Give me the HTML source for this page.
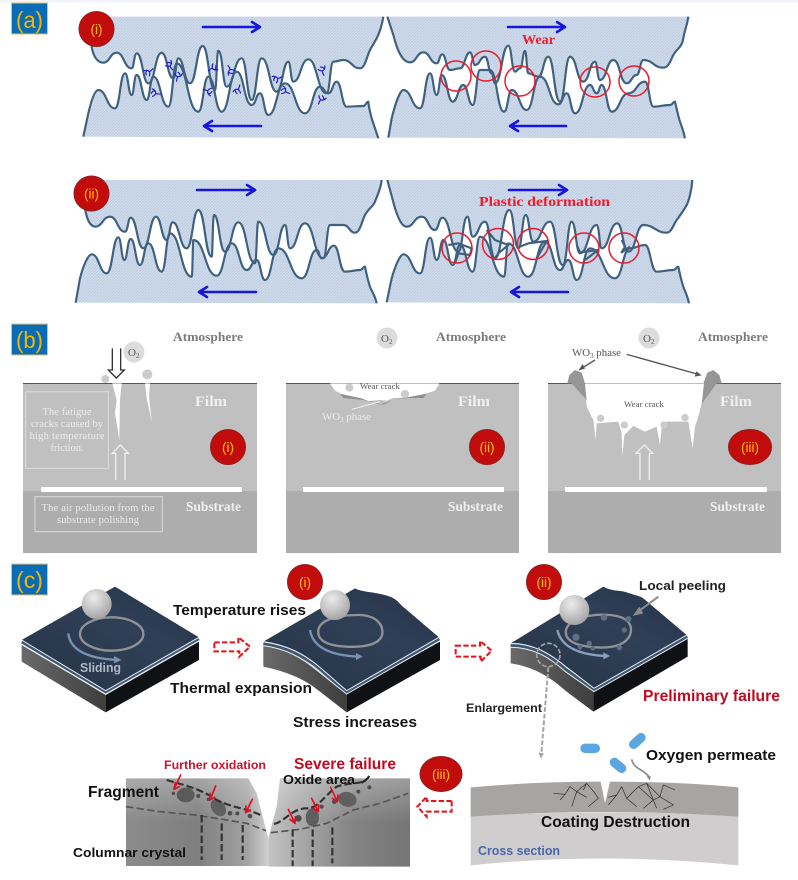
<!DOCTYPE html>
<html>
<head>
<meta charset="utf-8">
<style>
html,body{margin:0;padding:0;background:#fff;width:798px;height:880px;overflow:hidden}
svg{display:block;filter:blur(.35px)}
text{font-family:"Liberation Sans",sans-serif}
.serif{font-family:"Liberation Serif",serif}
.b{font-weight:bold}
.lab{fill:#f2b705;font-size:23px}
.num{fill:#ffc000;font-size:13.5px;text-anchor:middle}
.badge{fill:#c20c0c;stroke:#8f1f1f;stroke-width:1}
.atm{font-family:"Liberation Serif",serif;font-weight:bold;fill:#7b7b7b;font-size:13px}
.film{font-family:"Liberation Serif",serif;font-weight:bold;fill:#f0f0f0;font-size:15px}
.sub{font-family:"Liberation Serif",serif;font-weight:bold;fill:#f0f0f0;font-size:14px}
.note{font-family:"Liberation Serif",serif;fill:#ececec;font-size:10.5px;text-anchor:middle}
.bl{stroke:#1616dc;stroke-width:2.6;fill:none;stroke-linecap:round;stroke-linejoin:round}
.rc{fill:none;stroke:#e81c2c;stroke-width:1.5}
.dash{fill:none;stroke:#e8101c;stroke-width:6;stroke-dasharray:16 7}
.crk{fill:none;stroke:#2a2a2a;stroke-width:2}
.dk{fill:none;stroke:#333;stroke-width:6.5;stroke-dasharray:22 9}
.dk2{fill:none;stroke:#555;stroke-width:5;stroke-dasharray:22 10}
.ra{stroke:#e01020;stroke-width:5;fill:none;stroke-linecap:round;stroke-linejoin:round}
.dots{fill:#5d6f84}
.wf{fill:url(#hz)}
.ws{fill:none;stroke:#3f617f;stroke-width:6.5;stroke-linejoin:round}
</style>
</head>
<body>
<svg xmlns="http://www.w3.org/2000/svg" width="798" height="880" viewBox="0 0 798 880">
<defs>
<pattern id="hz" width="9" height="9" patternUnits="userSpaceOnUse">
<rect width="9" height="9" fill="#d0dcec"/>
<path d="M0 9L9 0" stroke="#bccbdf" stroke-width="2.4"/>
</pattern>
<radialGradient id="ball" cx=".4" cy=".3" r=".8">
<stop offset="0" stop-color="#ececec"/><stop offset=".6" stop-color="#bcbcbc"/><stop offset="1" stop-color="#9a9a9a"/>
</radialGradient>
<linearGradient id="topf" x1="0" y1="1" x2="1" y2="0">
<stop offset="0" stop-color="#263447"/><stop offset=".6" stop-color="#2f3f55"/><stop offset="1" stop-color="#26344a"/>
</linearGradient>
<linearGradient id="leftf" x1="0" y1="0" x2="1" y2="0">
<stop offset="0" stop-color="#6a6a6a"/><stop offset="1" stop-color="#3e3e3e"/>
</linearGradient>
<linearGradient id="gl" x1="0" y1="0" x2="1" y2="0">
<stop offset="0" stop-color="#8b8b8b"/><stop offset=".5" stop-color="#7f7f7f"/><stop offset=".85" stop-color="#a2a2a2"/><stop offset="1" stop-color="#d0d0d0"/>
</linearGradient>
<linearGradient id="gr" x1="0" y1="0" x2="1" y2="0">
<stop offset="0" stop-color="#c4c4c4"/><stop offset=".2" stop-color="#ababab"/><stop offset=".6" stop-color="#838383"/><stop offset="1" stop-color="#767676"/>
</linearGradient>
<linearGradient id="gv" x1="0" y1="0" x2="0" y2="1">
<stop offset="0" stop-color="#fff" stop-opacity=".28"/><stop offset=".5" stop-color="#fff" stop-opacity="0"/>
</linearGradient>
<path id="at" d="M272 50L275 140C279 165 290 188 310 188C330 188 330 158 350 158C372 158 372 205 395 205C402 205 402 160 410 160C428 160 428 250 445 250C465 250 465 158 485 158C502 158 502 235 520 235C528 235 528 175 535 175C552 175 552 250 570 250C589 250 589 138 608 138C626 138 626 270 645 270C650 270 650 152 655 152C668 152 668 260 680 260C702 260 702 175 725 175C740 175 740 300 755 300C770 300 770 175 785 175C808 175 808 275 830 275C848 275 848 185 865 185C872 185 872 245 880 245C902 245 902 178 925 178C952 178 952 280 980 280C990 280 990 185 1000 185C1015 185 1015 180 1030 180C1055 180 1055 205 1080 205C1095 205 1100 170 1110 150S1140 110 1150 50"/>
<path id="ab" d="M250 410L265 340C272 310 283 270 295 270C320 270 320 325 345 325C360 325 360 220 375 220C385 220 385 285 395 285C402 285 402 225 410 225C425 225 425 300 440 300C450 300 450 230 460 230C482 230 482 320 505 320C518 320 518 190 530 190C562 190 562 335 595 335C610 335 610 230 625 230C645 230 645 335 665 335C688 335 688 215 710 215C732 215 732 315 755 315C768 315 768 280 780 280C792 280 792 345 805 345C830 345 830 250 855 250C885 250 885 340 915 340C938 340 938 260 960 260C972 260 972 280 985 280C998 280 998 245 1010 245C1025 245 1025 320 1040 320C1065 320 1065 318 1090 318C1098 318 1098 305 1105 305C1108 335 1118 365 1120 370L1135 415"/>
<path id="bt" d="M22 35L40 90C50 130 65 172 90 172C110 172 110 142 130 142C150 142 150 175 170 175C178 175 178 148 187 148C198 148 198 195 210 195C225 195 225 190 240 190C255 190 255 142 270 142C278 142 278 180 285 180C300 180 300 155 315 155C325 155 325 205 335 205C340 205 340 235 345 235C365 235 365 122 385 122C395 122 395 200 405 200C412 200 412 190 420 190C428 190 428 138 435 138C440 138 440 205 445 205C460 205 460 215 475 215C490 215 490 155 505 155C522 155 522 290 540 290C555 290 555 155 570 155C590 155 590 230 610 230C628 230 628 170 645 170C652 170 652 225 660 225C680 225 680 165 700 165C720 165 720 235 740 235C755 235 755 210 770 210C780 210 780 165 790 165C820 165 820 188 850 188C865 188 870 170 880 150S905 130 910 100S922 60 925 35"/>
<path id="bb" d="M25 398L35 340C45 300 60 255 70 255C95 255 95 310 120 310C135 310 135 205 150 205C160 205 160 270 170 270C178 270 178 210 185 210C202 210 202 290 218 290C234 290 234 240 250 240C264 240 264 300 278 300C289 300 289 195 300 195C315 195 315 195 330 195C351 195 351 320 372 320C384 320 384 255 395 255C418 255 418 315 440 315C460 315 460 215 480 215C508 215 508 298 535 298C548 298 548 265 560 265C572 265 572 325 585 325C608 325 608 240 630 240C640 240 640 265 650 265C658 265 658 240 665 240C680 240 680 320 695 320C720 320 720 265 745 265C770 265 770 230 795 230C808 230 808 305 820 305C845 305 845 300 870 300C878 300 878 290 885 290C892 320 895 335 900 350S910 375 915 400"/>
<path id="ct" d="M75 45L75 130C80 160 88 183 105 185C128 185 128 155 150 155C172 155 172 200 195 200C204 200 204 158 212 158C231 158 231 250 250 250C269 250 269 155 288 155C304 155 304 225 320 225C329 225 329 172 338 172C359 172 359 250 380 250C398 250 398 135 415 135C435 135 435 275 455 275C458 275 458 150 462 150C478 150 478 260 495 260C515 260 515 172 535 172C560 172 560 295 585 295C590 295 590 170 595 170C618 170 618 270 640 270C658 270 658 180 675 180C682 180 682 250 690 250C712 250 712 175 735 175C762 175 762 280 790 280C800 280 800 180 810 180C830 180 830 180 850 180C868 180 868 203 885 203C900 203 905 170 915 150S940 125 945 110S962 75 965 45"/>
<path id="cb" d="M47 413L60 340C70 300 85 268 95 268C118 268 118 325 140 325C158 325 158 217 175 217C184 217 184 285 193 285C202 285 202 222 212 222C226 222 226 300 240 300C252 300 252 235 265 235C285 235 285 320 305 320C318 320 318 205 330 205C362 205 362 335 395 335C398 335 398 225 400 225C435 225 435 332 470 332C492 332 492 235 515 235C538 235 538 315 560 315C575 315 575 285 590 285C602 285 602 345 615 345C635 345 635 250 655 250C690 250 690 340 725 340C748 340 748 255 770 255C778 255 778 280 785 280C804 280 804 242 822 242C838 242 838 320 855 320C878 320 878 315 900 315C908 315 908 305 915 305C920 330 925 350 930 365S945 390 950 415"/>
<path id="dt" d="M22 45L45 130C55 160 65 185 80 185C102 185 102 155 125 155C145 155 145 195 165 195C176 195 176 158 187 158C211 158 211 260 235 260C248 260 248 155 262 155C270 155 270 215 278 215C296 215 296 170 315 170C330 170 330 280 345 280C366 280 366 135 388 135C402 135 402 250 415 250C426 250 426 150 437 150C448 150 448 230 460 230C485 230 485 170 510 170C529 170 529 300 548 300C562 300 562 170 575 170C588 170 588 265 600 265C625 265 625 180 650 180C658 180 658 250 665 250C688 250 688 175 712 175C728 175 728 260 745 260C768 260 768 180 790 180C825 180 825 203 860 203C875 203 882 175 890 165S915 130 920 120S935 80 937 45"/>
<path id="db" d="M20 412L35 340C45 305 60 268 70 268C95 268 95 325 120 325C135 325 135 218 150 218C160 218 160 285 170 285C180 285 180 225 190 225C204 225 204 300 218 300C229 300 229 240 240 240C259 240 259 320 278 320C289 320 289 215 300 215C336 215 336 335 372 335C378 335 378 235 385 235C415 235 415 335 445 335C470 335 470 230 495 230C518 230 518 315 540 315C552 315 552 285 565 285C578 285 578 345 590 345C610 345 610 250 630 250C668 250 668 340 705 340C728 340 728 250 750 250C772 250 772 240 795 240C812 240 812 320 830 320C855 320 855 315 880 315C888 315 888 305 895 305C900 330 905 350 910 365S922 390 927 415"/>
<path id="cr" d="M-14 -2Q-3 -7 3 0Q6 6 3 13M3 0Q9 -3 14 -9M-5 -4Q-9 4 -6 9"/>
</defs>

<rect x="0" y="0" width="798" height="2.5" fill="#f2f4fb"/>

<!-- wave panels -->
<g transform="scale(.33333)">
<use href="#at" class="wf"/><use href="#ab" class="wf"/><use href="#at" class="ws"/><use href="#ab" class="ws"/>
<g fill="none" stroke="#1a1ad0" stroke-width="3.5" stroke-linecap="round">
<use href="#cr" transform="translate(445 215)"/>
<use href="#cr" transform="translate(465 278) rotate(47)"/>
<use href="#cr" transform="translate(510 195) rotate(94)"/>
<use href="#cr" transform="translate(535 228) rotate(141)"/>
<use href="#cr" transform="translate(640 205) rotate(188)"/>
<use href="#cr" transform="translate(625 275) rotate(235)"/>
<use href="#cr" transform="translate(690 212) rotate(282)"/>
<use href="#cr" transform="translate(712 270) rotate(329)"/>
<use href="#cr" transform="translate(830 235) rotate(16)"/>
<use href="#cr" transform="translate(855 272) rotate(63)"/>
<use href="#cr" transform="translate(968 210) rotate(110)"/>
<use href="#cr" transform="translate(965 298) rotate(157)"/>
</g>
</g>
<g transform="translate(380 5) scale(.33333)">
<use href="#bt" class="wf"/><use href="#bb" class="wf"/><use href="#bt" class="ws"/><use href="#bb" class="ws"/>
</g>
<g transform="translate(60 165) scale(.33333)">
<use href="#ct" class="wf"/><use href="#cb" class="wf"/><use href="#ct" class="ws"/><use href="#cb" class="ws"/>
</g>
<g transform="translate(380 165) scale(.33333)">
<use href="#dt" class="wf"/><use href="#db" class="wf"/><use href="#dt" class="ws"/><use href="#db" class="ws"/>
<path d="M205 240L235 235L275 250L270 270L235 265L225 295M320 195L345 225L385 240L355 265L345 280M420 245L445 235L500 228L470 280M590 240L600 262L655 255L615 285M725 225L735 245L725 262L750 245" class="ws"/>
</g>

<!-- (a) labels and badges -->
<rect x="11.5" y="3" width="36" height="31" fill="#0b6cb6" stroke="#e3c26a"/>
<text class="lab" x="16" y="28" textLength="27" lengthAdjust="spacingAndGlyphs">(a)</text>
<circle class="badge" cx="96.5" cy="29" r="17.5"/><text class="num" x="96.5" y="34">(i)</text>
<circle class="badge" cx="91.5" cy="193.5" r="17.5"/><text class="num" x="91.5" y="198.5">(ii)</text>

<!-- arrows a -->
<path class="bl" d="M203 27H260M252 22L260 27L252 32"/>
<path class="bl" d="M261 126H204M212 121L204 126L212 131"/>
<path class="bl" d="M508 27H565M557 22L565 27L557 32"/>
<path class="bl" d="M566 126H510M518 121L510 126L518 131"/>
<path class="bl" d="M197 190H255M247 185L255 190L247 195"/>
<path class="bl" d="M256 292H199M207 287L199 292L207 297"/>
<path class="bl" d="M509 190H567M559 185L567 190L559 195"/>
<path class="bl" d="M568 292H511M519 287L511 292L519 297"/>

<!-- circles a -->
<g class="rc">
<circle cx="456" cy="76" r="15"/><circle cx="486" cy="66" r="15"/><circle cx="520" cy="81" r="15"/><circle cx="595" cy="82" r="15"/><circle cx="634" cy="81" r="15"/>
<circle cx="457" cy="248" r="15"/><circle cx="498" cy="244" r="15.5"/><circle cx="533" cy="244" r="15.5"/><circle cx="584" cy="248" r="15"/><circle cx="624" cy="248" r="15"/>
</g>
<text class="serif b" x="522" y="44" font-size="14" fill="#ee1c2c" textLength="33" lengthAdjust="spacingAndGlyphs">Wear</text>
<text class="serif b" x="479" y="206" font-size="14" fill="#ee1c2c" textLength="131" lengthAdjust="spacingAndGlyphs">Plastic deformation</text>

<!-- (b) -->
<rect x="11.5" y="324" width="36" height="31" fill="#0b6cb6" stroke="#e3c26a"/>
<text class="lab" x="16" y="348" textLength="27" lengthAdjust="spacingAndGlyphs">(b)</text>

<!-- panel 1 -->
<rect x="23" y="383" width="234" height="108" fill="#c0c0c0"/>
<rect x="23" y="491" width="234" height="62" fill="#adadad"/>
<path d="M23 383.5H257" stroke="#555" stroke-width="1"/>
<rect x="41" y="487" width="201" height="5" fill="#fff"/>
<g transform="translate(0 320) scale(.33333)">
<path d="M337 190H365L360 240L358 360L345 280L350 240Z" fill="#fff"/>
<path d="M435 190H450L447 230L455 305L440 235Z" fill="#fff"/>
<circle cx="316" cy="177" r="12" fill="#ccc"/>
<circle cx="442" cy="163" r="15" fill="#ccc"/>
<path d="M337 85V150H325L349 174L373 150H362V85" fill="none" stroke="#333" stroke-width="4"/>
<path d="M347 480V400H337L361 375L385 400H375V480" fill="none" stroke="#eee" stroke-width="4"/>
<rect x="77" y="215" width="248" height="230" fill="none" stroke="#d8d8d8" stroke-width="3.5"/>
<rect x="105" y="530" width="382" height="105" fill="none" stroke="#d4d4d4" stroke-width="3.5"/>
</g>
<circle cx="134" cy="352" r="10.5" fill="#dcdcdc"/>
<text class="serif" x="128" y="356" font-size="11" fill="#555">O<tspan font-size="7" dy="2">2</tspan></text>
<text class="atm" x="173" y="341" textLength="70" lengthAdjust="spacingAndGlyphs">Atmosphere</text>
<text class="film" x="195" y="406" textLength="32" lengthAdjust="spacingAndGlyphs">Film</text>
<text class="sub" x="186" y="511" textLength="55" lengthAdjust="spacingAndGlyphs">Substrate</text>
<text class="note" x="67" y="415" textLength="49" lengthAdjust="spacing">The fatigue</text>
<text class="note" x="67" y="427" textLength="72" lengthAdjust="spacing">cracks caused by</text>
<text class="note" x="67" y="439" textLength="75" lengthAdjust="spacing">high temperature</text>
<text class="note" x="67" y="451" textLength="33" lengthAdjust="spacing">friction.</text>
<text class="note" x="98" y="511" textLength="113" lengthAdjust="spacing">The air pollution from the</text>
<text class="note" x="98" y="523" textLength="82" lengthAdjust="spacing">substrate polishing</text>
<circle class="badge" cx="228" cy="447" r="17.5"/><text class="num" x="228" y="452">(i)</text>

<!-- panel 2 -->
<rect x="286" y="383" width="233" height="108" fill="#c0c0c0"/>
<rect x="286" y="491" width="233" height="62" fill="#adadad"/>
<path d="M286 383.5H519" stroke="#555" stroke-width="1"/>
<rect x="303" y="487" width="201" height="5" fill="#fff"/>
<g transform="translate(280 320) scale(.33333)">
<path d="M180 222L250 236L300 254L340 240L440 222L430 234L385 234L340 240L310 254L250 240L190 234Z" fill="#8f8f8f"/>
<path d="M150 190L165 212L185 222L245 235L265 243L300 240L320 242L340 234L380 232L440 220L465 212L478 190Z" fill="#fff"/>
<circle cx="208" cy="203" r="12" fill="#ccc"/>
<circle cx="375" cy="222" r="12" fill="#ccc"/>
<path d="M215 268L300 245" stroke="#eee" stroke-width="3"/>
</g>
<text class="serif" x="360" y="389" font-size="8.5" fill="#555" textLength="40" lengthAdjust="spacingAndGlyphs">Wear crack</text>
<text class="serif" x="322" y="420" font-size="11" fill="#ececec" textLength="49" lengthAdjust="spacingAndGlyphs">WO<tspan font-size="7" dy="2">3</tspan><tspan dy="-2"> phase</tspan></text>
<circle cx="387" cy="338" r="10.5" fill="#dcdcdc"/>
<text class="serif" x="381" y="342" font-size="11" fill="#555">O<tspan font-size="7" dy="2">2</tspan></text>
<text class="atm" x="436" y="341" textLength="70" lengthAdjust="spacingAndGlyphs">Atmosphere</text>
<text class="film" x="458" y="406" textLength="32" lengthAdjust="spacingAndGlyphs">Film</text>
<text class="sub" x="448" y="511" textLength="55" lengthAdjust="spacingAndGlyphs">Substrate</text>
<circle class="badge" cx="487" cy="447" r="17.5"/><text class="num" x="487" y="452">(ii)</text>

<!-- panel 3 -->
<rect x="548" y="383" width="233" height="108" fill="#c0c0c0"/>
<rect x="548" y="491" width="233" height="62" fill="#adadad"/>
<path d="M548 383.5H781" stroke="#555" stroke-width="1"/>
<rect x="565" y="487" width="202" height="5" fill="#fff"/>
<g transform="translate(280 320) scale(.33333)">
<path d="M862 190L868 165L885 150L905 158L915 190L920 240L905 200L875 190Z" fill="#969696"/>
<path d="M1325 190L1318 165L1300 150L1282 158L1270 190L1262 255L1285 200L1310 190Z" fill="#969696"/>
<path d="M875 190H915L920 260L940 300L947 360L950 310L1015 305L1025 340L1027 410L1033 345L1060 318L1095 335L1130 320L1140 375L1145 325L1160 305L1225 305L1238 385L1245 320L1255 290L1265 250L1290 190Z" fill="#fff"/>
<path d="M875 190L885 182L905 190L915 195L920 240Z" fill="#969696"/>
<path d="M1272 190L1282 165L1300 180L1310 190L1265 252Z" fill="#969696"/>
<g fill="#ccc"><circle cx="962" cy="295" r="11"/><circle cx="1033" cy="315" r="11"/><circle cx="1152" cy="315" r="11"/><circle cx="1215" cy="293" r="11"/></g>
<path d="M1080 480V400H1068L1093 375L1118 400H1108V480" fill="none" stroke="#eee" stroke-width="4"/>
<path d="M945 120L900 148M1040 103L1258 164" stroke="#555" stroke-width="4"/>
<path d="M895 152L915 146L908 132ZM1265 166L1244 170L1249 154Z" fill="#555"/>
</g>
<text class="serif" x="644" y="407" font-size="8.5" fill="#555" text-anchor="middle" textLength="40" lengthAdjust="spacingAndGlyphs">Wear crack</text>
<text class="serif" x="572" y="356" font-size="11" fill="#555" textLength="49" lengthAdjust="spacingAndGlyphs">WO<tspan font-size="7" dy="2">3</tspan><tspan dy="-2"> phase</tspan></text>
<circle cx="649" cy="338" r="10.5" fill="#dcdcdc"/>
<text class="serif" x="643" y="342" font-size="11" fill="#555">O<tspan font-size="7" dy="2">2</tspan></text>
<text class="atm" x="698" y="341" textLength="70" lengthAdjust="spacingAndGlyphs">Atmosphere</text>
<text class="film" x="720" y="406" textLength="32" lengthAdjust="spacingAndGlyphs">Film</text>
<text class="sub" x="710" y="511" textLength="55" lengthAdjust="spacingAndGlyphs">Substrate</text>
<ellipse class="badge" cx="750" cy="447" rx="21.5" ry="17.5"/><text class="num" x="750" y="452">(iii)</text>

<!-- (c) -->
<rect x="11.5" y="564" width="36" height="31" fill="#0b6cb6" stroke="#e3c26a"/>
<text class="lab" x="16" y="588" textLength="27" lengthAdjust="spacingAndGlyphs">(c)</text>

<g transform="translate(0 560) scale(.33333)">
<!-- slab 1 -->
<path d="M65 255L317 405V457L65 305Z" fill="url(#leftf)"/>
<path d="M317 405L597 245V300L317 457Z" fill="#101114"/>
<path d="M65 240L345 80L597 232L317 392Z" fill="url(#topf)"/>
<path d="M65 246L317 397L597 237" fill="none" stroke="#3f5670" stroke-width="8"/>
<path d="M65 240L317 392L597 232" fill="none" stroke="#e6edf5" stroke-width="3"/>
<path d="M65 252L317 402L597 242" fill="none" stroke="#e6edf5" stroke-width="3"/>
<ellipse cx="335" cy="222" rx="95" ry="50" fill="none" stroke="#8f9297" stroke-width="7"/>
<circle cx="290" cy="132" r="45" fill="url(#ball)"/>
<path d="M205 220Q212 292 350 300" fill="none" stroke="#7a92b2" stroke-width="7"/>
<path d="M342 288L365 300L342 310Z" fill="#7a92b2"/>
<!-- slab 2 -->
<path d="M790 255C850 262 890 280 930 312L1040 400V457L960 395C910 355 860 335 790 320Z" fill="url(#leftf)"/>
<path d="M1040 400L1320 245V300L1040 457Z" fill="#101114"/>
<path d="M790 245L1065 85C1090 98 1130 95 1170 110C1195 120 1200 135 1215 145L1317 232L1040 392L960 322C910 280 860 255 790 245Z" fill="url(#topf)"/>
<path d="M790 251C860 261 910 286 960 328L1040 397L1318 237" fill="none" stroke="#3f5670" stroke-width="8"/>
<path d="M790 245C860 255 910 280 960 322L1040 392L1317 232" fill="none" stroke="#e6edf5" stroke-width="3"/>
<path d="M790 257C860 267 905 292 955 334L1040 402L1320 242" fill="none" stroke="#e6edf5" stroke-width="3"/>
<path d="M955 210C960 180 1010 165 1075 165C1130 165 1150 195 1147 222C1140 255 1090 262 1040 260C990 258 950 245 955 210Z" fill="none" stroke="#8f9297" stroke-width="7"/>
<circle cx="1005" cy="135" r="45" fill="url(#ball)"/>
<path d="M930 210Q942 284 1075 290" fill="none" stroke="#7a92b2" stroke-width="7"/>
<path d="M1068 279L1088 290L1068 300Z" fill="#7a92b2"/>
<!-- dashed arrow 1 -->
<path class="dash" d="M643 247H715V232L750 260L718 290V274H643Z"/>
</g>

<g transform="translate(440 560) scale(.33333)">
<path class="dash" d="M47 257H120V243L155 272L122 305V290H47Z"/>
<!-- slab 3 -->
<path d="M212 258C280 258 325 285 370 322L460 395V455L380 395C330 350 280 320 212 310Z" fill="url(#leftf)"/>
<path d="M460 395L743 235V290L460 455Z" fill="#101114"/>
<path d="M212 250L490 80C515 95 540 90 560 97C590 107 600 108 610 115L740 225L462 385L380 322C330 280 280 250 212 250Z" fill="url(#topf)"/>
<path d="M212 256C280 256 330 286 378 328L462 390L742 230" fill="none" stroke="#3f5670" stroke-width="8"/>
<path d="M212 250C280 250 330 280 380 322L462 385L740 225" fill="none" stroke="#e6edf5" stroke-width="3"/>
<path d="M212 262C280 262 328 292 375 334L462 395L743 235" fill="none" stroke="#e6edf5" stroke-width="3"/>
<path d="M378 210C385 180 440 160 510 165C565 170 580 195 570 225C555 258 510 265 465 262C415 258 372 245 378 210Z" fill="none" stroke="#8f9297" stroke-width="7"/>
<g class="dots"><circle cx="492" cy="172" r="10"/><circle cx="565" cy="177" r="9"/><circle cx="553" cy="210" r="8"/><circle cx="408" cy="232" r="11"/><circle cx="448" cy="250" r="8"/><circle cx="420" cy="262" r="7"/><circle cx="458" cy="265" r="7"/><circle cx="538" cy="263" r="8"/></g>
<circle cx="403" cy="150" r="45" fill="url(#ball)"/>
<path d="M352 210Q368 282 497 288" fill="none" stroke="#8aa0bb" stroke-width="7"/>
<path d="M490 277L510 288L490 298Z" fill="#8aa0bb"/>
<circle cx="325" cy="285" r="35" fill="none" stroke="#a5a5a5" stroke-width="5" stroke-dasharray="14 6"/>
<path d="M325 322L304 582" fill="none" stroke="#a5a5a5" stroke-width="6" stroke-dasharray="14 6"/>
<path d="M296 578L312 580L302 596Z" fill="#a5a5a5"/>
<path d="M655 110L590 158" stroke="#8b8b8b" stroke-width="6"/>
<path d="M578 168L598 140L610 160Z" fill="#8b8b8b"/>
<!-- coating -->
<path d="M92 768Q490 746 895 768V916Q490 875 92 916Z" fill="#cfcdce"/>
<path d="M92 682Q280 665 482 665L495 730L510 665Q720 665 895 682V770Q490 742 92 770Z" fill="#a7a4a4"/>
<g class="crk">
<path d="M340 700L375 703L390 680L410 695L395 740M375 703L360 720M410 695L440 670L465 700L475 715L445 740M440 670L430 690M410 695L440 712"/>
<path d="M505 735L530 705L545 680L560 715L590 740M530 705L505 712M560 715L595 680L640 720L610 745M595 680L620 670L660 710L700 735L670 748M660 710L670 675L705 690M640 720L660 710M620 670L650 745"/>
</g>
<!-- molecules -->
<g fill="none" stroke="#5aa6e2" stroke-width="28" stroke-linecap="round">
<path d="M435 565H466"/>
<path d="M603 533L581 553"/>
<path d="M523 607L545 625"/>
</g>
<path d="M575 598C582 630 610 625 628 652" fill="none" stroke="#8b8b8b" stroke-width="5"/>
<path d="M620 650L632 648L630 662Z" fill="#8b8b8b"/>
</g>

<!-- bottom-left cross section -->
<g transform="translate(60 740) scale(.33333)">
<path d="M198 115H565L590 160L625 295V378H198Z" fill="url(#gl)"/>
<path d="M625 295L650 200L660 115H1050V380H625Z" fill="url(#gr)"/>
<path d="M198 115H565L590 160L625 295V378H198Z" fill="url(#gv)"/>
<path d="M625 295L650 200L660 115H1050V380H625Z" fill="url(#gv)"/>
<ellipse cx="377" cy="165" rx="27" ry="22" fill="#5a5a5a"/>
<ellipse cx="475" cy="203" rx="20" ry="28" transform="rotate(-35 475 203)" fill="#5f5f5f"/>
<ellipse cx="757" cy="232" rx="20" ry="27" fill="#5f5f5f"/>
<ellipse cx="862" cy="178" rx="28" ry="22" transform="rotate(15 862 178)" fill="#5f5f5f"/>
<g fill="#4d4d4d"><circle cx="415" cy="168" r="6"/><circle cx="510" cy="220" r="7"/><circle cx="532" cy="220" r="6"/><circle cx="570" cy="228" r="7"/><circle cx="715" cy="235" r="10"/><circle cx="785" cy="200" r="6"/><circle cx="823" cy="185" r="7"/><circle cx="895" cy="155" r="6"/><circle cx="928" cy="142" r="6"/><circle cx="340" cy="160" r="5"/><circle cx="445" cy="178" r="5"/></g>
<path class="dk" d="M320 120C370 135 420 145 470 180C520 205 565 205 607 228"/>
<path class="dk" d="M642 252C675 245 695 205 740 205C775 205 790 170 830 140C860 130 890 130 915 125"/>
<path d="M905 128Q918 122 928 108" fill="none" stroke="#222" stroke-width="6"/>
<path class="dk2" d="M198 200L300 215L405 225L450 232L560 250L618 272"/>
<path class="dk2" d="M632 278L720 268L800 250L880 210L960 190L1045 160"/>
<path class="dk" d="M425 225V360M485 250V360M548 255V360M698 268V378M758 268V378M817 262V370"/>
<path class="ra" d="M362 105L342 148M346 128L342 148L358 140"/>
<path class="ra" d="M467 138L450 180M450 160L450 180L464 172"/>
<path class="ra" d="M577 178L557 218M558 198L557 218L571 210"/>
<path class="ra" d="M685 208L705 250M690 238L705 250L706 230"/>
<path class="ra" d="M755 175L775 215M760 205L775 215L776 195"/>
<path class="ra" d="M812 142L832 185M817 175L832 185L834 165"/>
<path class="dash" d="M1175 183H1100V170L1072 200L1100 230V215H1175Z"/>
</g>

<!-- badges c -->
<circle class="badge" cx="305" cy="582" r="17.5"/><text class="num" x="305" y="587">(i)</text>
<circle class="badge" cx="544" cy="582" r="17.5"/><text class="num" x="544" y="587">(ii)</text>
<ellipse class="badge" cx="441" cy="774" rx="21" ry="17.5"/><text class="num" x="441" y="779">(iii)</text>

<!-- text c -->
<text x="80" y="672" font-size="13" class="b" fill="#aeb8c8" textLength="41" lengthAdjust="spacingAndGlyphs">Sliding</text>
<text class="b" x="173" y="615" font-size="15" fill="#141414" textLength="133" lengthAdjust="spacingAndGlyphs">Temperature rises</text>
<text class="b" x="170" y="693" font-size="15" fill="#141414" textLength="142" lengthAdjust="spacingAndGlyphs">Thermal expansion</text>
<text class="b" x="293" y="727" font-size="15" fill="#141414" textLength="124" lengthAdjust="spacingAndGlyphs">Stress increases</text>
<text class="b" x="639" y="590" font-size="13" fill="#222" textLength="87" lengthAdjust="spacingAndGlyphs">Local peeling</text>
<text class="b" x="643" y="701" font-size="15.5" fill="#c00a20" textLength="137" lengthAdjust="spacingAndGlyphs">Preliminary failure</text>
<text class="b" x="466" y="712" font-size="12" fill="#222" textLength="76" lengthAdjust="spacingAndGlyphs">Enlargement</text>
<text class="b" x="646" y="760" font-size="15" fill="#111" textLength="130" lengthAdjust="spacingAndGlyphs">Oxygen permeate</text>
<text class="b" x="541" y="827" font-size="16" fill="#111" textLength="149" lengthAdjust="spacingAndGlyphs">Coating Destruction</text>
<text class="b" x="478" y="855" font-size="12.5" fill="#4a68a8" textLength="82" lengthAdjust="spacingAndGlyphs">Cross section</text>
<text class="b" x="164" y="769" font-size="12" fill="#d0102c" textLength="102" lengthAdjust="spacingAndGlyphs">Further oxidation</text>
<text class="b" x="294" y="769" font-size="15.5" fill="#c00a20" textLength="102" lengthAdjust="spacingAndGlyphs">Severe failure</text>
<text class="b" x="283" y="784" font-size="13" fill="#111" textLength="72" lengthAdjust="spacingAndGlyphs">Oxide area</text>
<text class="b" x="88" y="797" font-size="15.5" fill="#111" textLength="71" lengthAdjust="spacingAndGlyphs">Fragment</text>
<text class="b" x="73" y="857" font-size="13" fill="#111" textLength="113" lengthAdjust="spacingAndGlyphs">Columnar crystal</text>
</svg>
</body>
</html>
